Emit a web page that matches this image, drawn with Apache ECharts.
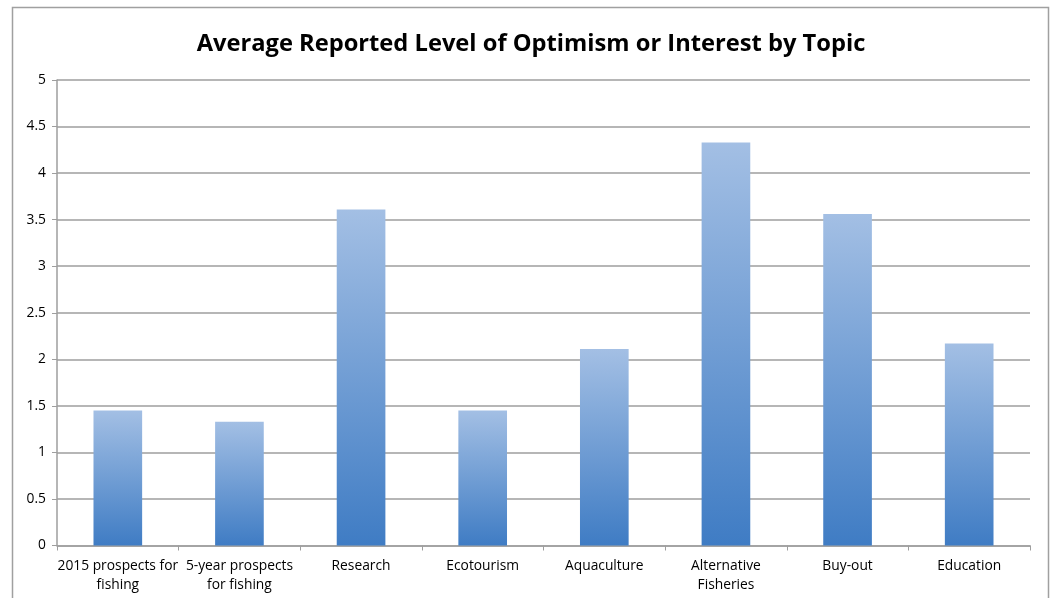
<!DOCTYPE html>
<html>
<head>
<meta charset="utf-8">
<script src="https://cdn.jsdelivr.net/npm/echarts@6/dist/echarts.min.js"></script>
<style>
html,body{margin:0;padding:0;background:#fff;}
#c{width:1055px;height:598px;}
</style>
</head>
<body>
<div id="c"></div>
<script>
const categories = ["2015 prospects for\nfishing", "5-year prospects\nfor fishing", "Research", "Ecotourism", "Aquaculture", "Alternative\nFisheries", "Buy-out", "Education"];
const values = [1.45, 1.33, 3.61, 1.45, 2.11, 4.33, 3.56, 2.17];
const yTicks = [0, 0.5, 1, 1.5, 2, 2.5, 3, 3.5, 4, 4.5, 5];
const titleText = "Average Reported Level of Optimism or Interest by Topic";

const chart = echarts.init(document.getElementById('c'));
const font = '"Open Sans", "Liberation Sans", sans-serif';
chart.setOption({
  animation: false,
  backgroundColor: '#fff',
  title: {
    text: titleText,
    left: 526, top: 27, textAlign: 'center',
    textStyle: {fontFamily: font, fontSize: 23.7, fontWeight: 'bold', color: '#000'}
  },
  graphic: [{
    type: 'rect', silent: true,
    shape: {x: 12.5, y: 7.5, width: 1036, height: 620},
    style: {fill: 'none', stroke: '#a0a0a0', lineWidth: 1.5}
  }],
  grid: {left: 57, right: 25, top: 80, bottom: 52.5, containLabel: false},
  xAxis: {
    type: 'category', data: categories,
    axisLine: {lineStyle: {color: '#9e9e9e', width: 1.5}},
    axisTick: {show: true, length: 5, lineStyle: {color: '#9e9e9e'}},
    axisLabel: {fontFamily: font, fontSize: 13.8, color: '#000', margin: 11, lineHeight: 19, interval: 0}
  },
  yAxis: {
    type: 'value', min: yTicks[0], max: yTicks[yTicks.length-1], interval: 0.5,
    axisLine: {show: true, lineStyle: {color: '#9e9e9e', width: 1.5}},
    axisTick: {show: true, length: 5, lineStyle: {color: '#9e9e9e'}},
    splitLine: {lineStyle: {color: '#9e9e9e', width: 1.5}},
    axisLabel: {fontFamily: font, fontSize: 13.8, color: '#000', margin: 11}
  },
  series: [{
    type: 'bar', data: values, barWidth: '40%',
    itemStyle: {
      color: new echarts.graphic.LinearGradient(0, 0, 0, 1, [
        {offset: 0, color: '#a3bfe4'},
        {offset: 1, color: '#3f7cc4'}
      ])
    }
  }]
});
</script>
</body>
</html>
